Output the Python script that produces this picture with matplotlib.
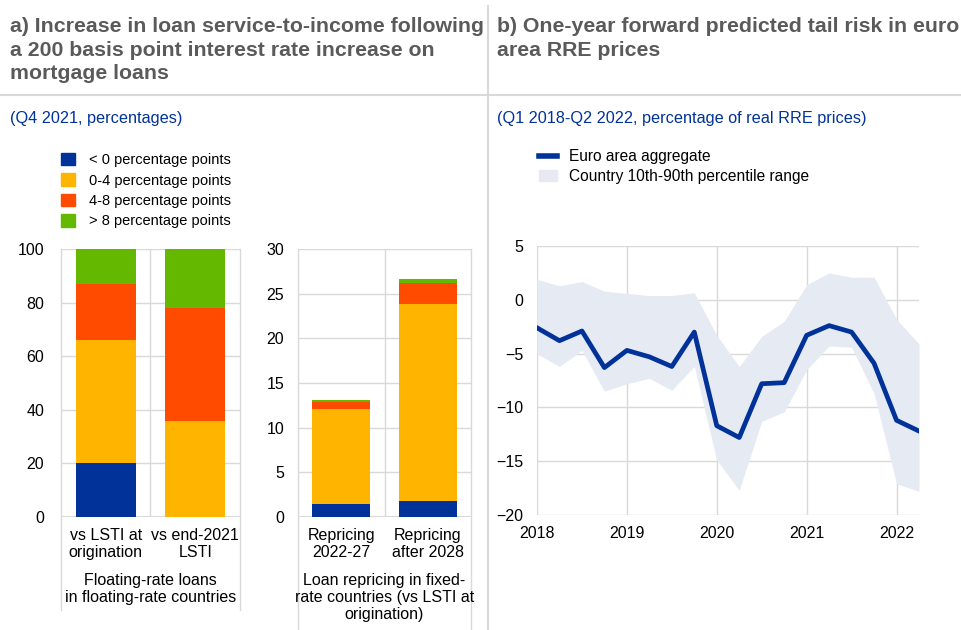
import matplotlib
matplotlib.use("Agg")
import matplotlib.pyplot as plt
from matplotlib.patches import Patch
from matplotlib.lines import Line2D

plt.rcParams['font.family'] = ['Liberation Sans', 'DejaVu Sans']

# ---- data: panel a ----
series_names = ['< 0 percentage points', '0-4 percentage points',
                '4-8 percentage points', '> 8 percentage points']
series_colors = ['#003299', '#ffb400', '#ff4b00', '#65b800']

float_labels = ['vs LSTI at\norigination', 'vs end-2021\nLSTI']
float_values = [[20, 0], [46, 36], [21, 42], [13, 22]]

fixed_labels = ['Repricing\n2022-27', 'Repricing\nafter 2028']
fixed_values = [[1.4, 1.8], [10.7, 22.0], [0.8, 2.4], [0.2, 0.4]]

# ---- data: panel b (quarterly, Q1 2018 - Q2 2022) ----
quarters = [2018 + i * 0.25 for i in range(18)]
euro_area = [-2.6, -3.8, -2.9, -6.3, -4.7, -5.3, -6.2, -3.0, -11.7,
             -12.8, -7.8, -7.7, -3.3, -2.4, -3.0, -5.9, -11.2, -12.2]
p90 = [1.9, 1.3, 1.7, 0.8, 0.6, 0.4, 0.4, 0.65, -3.3,
       -6.2, -3.4, -2.0, 1.4, 2.5, 2.1, 2.1, -1.8, -4.1]
p10 = [-5.0, -6.2, -4.7, -8.5, -7.8, -7.3, -8.4, -6.2, -14.9,
       -17.7, -11.3, -10.4, -6.5, -4.3, -4.4, -8.7, -17.1, -17.8]

W, H = 962, 630
GRID = '#d9d9d9'
TITLE_C = '#5a5a5a'
SUB_C = '#003299'
TICK_FS = 11.5


def px_axes(fig, left, right, top, bottom):
    return fig.add_axes([left / W, (H - bottom) / H, (right - left) / W,
                         (bottom - top) / H])


def style_bar_axes(ax, ymax, step, drop, ypad):
    ax.set_xlim(-0.5, 1.5)
    ax.set_ylim(0, ymax)
    ax.set_yticks(range(0, ymax + 1, step))
    for s in ax.spines.values():
        s.set_visible(False)
    ax.tick_params(length=0, labelsize=TICK_FS)
    ax.tick_params(axis='x', pad=8)
    ax.tick_params(axis='y', pad=ypad)
    ax.grid(axis='y', color=GRID, lw=1)
    ax.set_axisbelow(True)
    ax.axvline(0.5, color=GRID, lw=1, zorder=0)
    ax.axhline(0, color=GRID, lw=1.5, zorder=0)
    for x in (0, 1):
        ax.plot([x, x], [1, -drop], transform=ax.transAxes, color=GRID,
                lw=1, clip_on=False, zorder=0)


fig = plt.figure(figsize=(W / 100, H / 100), dpi=100)

# panel a: floating-rate loans
ax1 = px_axes(fig, 61, 240, 249, 517)
bottom = [0, 0]
for vals, color in zip(float_values, series_colors):
    ax1.bar([0, 1], vals, bottom=bottom, width=0.67, color=color)
    bottom = [b + v for b, v in zip(bottom, vals)]
style_bar_axes(ax1, 100, 20, 93 / 268, 12)
ax1.set_xticks([0, 1])
ax1.set_xticklabels(float_labels, fontsize=TICK_FS, linespacing=1.15)
ax1.text(0.5, -0.21, 'Floating-rate loans\nin floating-rate countries',
         transform=ax1.transAxes, ha='center', va='top', fontsize=TICK_FS,
         linespacing=1.15)

# panel a: fixed-rate countries
ax2 = px_axes(fig, 298, 471, 249, 517)
bottom = [0, 0]
for vals, color in zip(fixed_values, series_colors):
    ax2.bar([0, 1], vals, bottom=bottom, width=0.67, color=color)
    bottom = [b + v for b, v in zip(bottom, vals)]
style_bar_axes(ax2, 30, 5, 113 / 268, 10)
ax2.set_xticks([0, 1])
ax2.set_xticklabels(fixed_labels, fontsize=TICK_FS, linespacing=1.15)
ax2.text(0.5, -0.21,
         'Loan repricing in fixed-\nrate countries (vs LSTI at\norigination)',
         transform=ax2.transAxes, ha='center', va='top', fontsize=TICK_FS,
         linespacing=1.15)

handles = [Patch(color=c, label=n) for c, n in zip(series_colors, series_names)]
fig.legend(handles=handles, loc='upper left',
           bbox_to_anchor=(55 / W, 1 - 147 / H), frameon=False, fontsize=10.5,
           handlelength=0.95, handleheight=0.95, handletextpad=1.0,
           labelspacing=0.42, borderaxespad=0)

# panel b
ax3 = px_axes(fig, 537, 919, 246, 515)
ax3.fill_between(quarters, p10, p90, color='#e6eaf3', lw=0, zorder=1)
ax3.plot(quarters, euro_area, color='#003299', lw=3.4, zorder=2)
ax3.set_xlim(2018, 2022.25)
ax3.set_ylim(-20, 5)
ax3.set_yticks(range(-20, 6, 5))
ax3.set_xticks(range(2018, 2023))
for s in ax3.spines.values():
    s.set_visible(False)
ax3.grid(color=GRID, lw=1)
ax3.set_axisbelow(True)
ax3.tick_params(length=0, labelsize=TICK_FS)
ax3.tick_params(axis='x', pad=8)
ax3.tick_params(axis='y', pad=10)

leg_b = [Line2D([], [], color='#003299', lw=4, label='Euro area aggregate'),
         Patch(color='#e6eaf3', label='Country 10th-90th percentile range')]
fig.legend(handles=leg_b, loc='upper left',
           bbox_to_anchor=(533 / W, 1 - 143 / H), frameon=False, fontsize=11.2,
           handlelength=1.15, handletextpad=0.75, labelspacing=0.3,
           borderaxespad=0)

# titles, subtitles and separators
fig.text(10 / W, 1 - 17 / H,
         'a) Increase in loan service-to-income following\n'
         'a 200 basis point interest rate increase on\nmortgage loans',
         ha='left', va='top', fontsize=15.3, fontweight='bold', color=TITLE_C,
         linespacing=1.3)
fig.text(497 / W, 1 - 17 / H,
         'b) One-year forward predicted tail risk in euro\narea RRE prices',
         ha='left', va='top', fontsize=15.3, fontweight='bold', color=TITLE_C,
         linespacing=1.3)
fig.text(10 / W, 1 - 118 / H, '(Q4 2021, percentages)', ha='left',
         va='center', fontsize=11.7, color=SUB_C)
fig.text(497 / W, 1 - 118 / H,
         '(Q1 2018-Q2 2022, percentage of real RRE prices)', ha='left',
         va='center', fontsize=11.7, color=SUB_C)

fig.add_artist(Line2D([0, 1], [1 - 95 / H, 1 - 95 / H], color=GRID, lw=1.5))
fig.add_artist(Line2D([488 / W, 488 / W], [0, 1 - 6 / H], color=GRID, lw=1.5))

fig.savefig('out.png', dpi=100)
